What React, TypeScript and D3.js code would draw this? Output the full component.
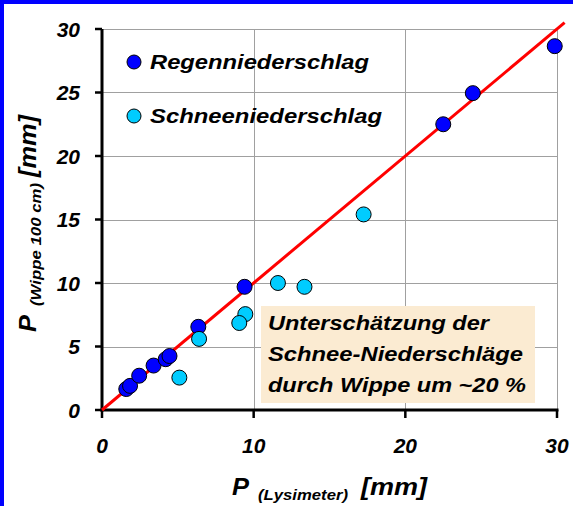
import { useEffect, useRef } from "react";
import * as d3 from "d3";

// rain points (Regenniederschlag)
const regenX = [1.6, 1.85, 2.45, 3.4, 4.2, 4.45, 6.35, 9.4, 22.5, 24.45, 29.85];
const regenY = [1.65, 1.9, 2.7, 3.5, 4.0, 4.25, 6.55, 9.7, 22.5, 24.95, 28.65];

// snow points (Schneeniederschlag)
const schneeX = [5.1, 6.4, 9.45, 9.05, 11.6, 13.35, 17.25];
const schneeY = [2.55, 5.6, 7.55, 6.85, 10.0, 9.7, 15.4];

// 1:1 line
const lineX = [0, 30.5];
const lineY = [0, 30.5];

const yTicks = [0, 5, 10, 15, 20, 25, 30];
const xTicks = [0, 10, 20, 30];

const legendLabels = ["Regenniederschlag", "Schneeniederschlag"];
const noteLines = ["Unterschätzung der", "Schnee-Niederschläge", "durch Wippe um ~20 %"];

const FONT = "'Liberation Sans', Arial, sans-serif";

function App() {
  const svgRef = useRef<SVGSVGElement>(null);

  useEffect(() => {
    const svg = d3.select(svgRef.current);
    svg.selectAll("*").remove();

    const x = d3.scaleLinear().domain([0, 30]).range([102, 557]);
    const y = d3.scaleLinear().domain([0, 30]).range([410, 29]);

    // frame (only top and left visible)
    svg.append("rect").attr("x", 0).attr("y", 0).attr("width", 573).attr("height", 506).attr("fill", "#fff");
    svg.append("rect").attr("x", 0).attr("y", 0).attr("width", 573).attr("height", 4).attr("fill", "#0000ff");
    svg.append("rect").attr("x", 0).attr("y", 0).attr("width", 4).attr("height", 506).attr("fill", "#0000ff");

    // grid
    const grid = svg.append("g").attr("stroke", "#a0a0a0").attr("stroke-width", 1);
    yTicks.filter((t) => t > 0).forEach((t) => {
      grid.append("line").attr("x1", x(0)).attr("x2", x(30))
        .attr("y1", Math.round(y(t)) + 0.5).attr("y2", Math.round(y(t)) + 0.5);
    });
    xTicks.filter((t) => t > 0).forEach((t) => {
      grid.append("line").attr("y1", y(30)).attr("y2", y(0))
        .attr("x1", Math.round(x(t)) + 0.5).attr("x2", Math.round(x(t)) + 0.5);
    });

    // note box
    const note = svg.append("g");
    note.append("rect").attr("x", 261).attr("y", 306).attr("width", 274).attr("height", 97).attr("fill", "#fbebd2");
    const noteWidths = [221, 255, 258];
    noteLines.forEach((s, i) => {
      note.append("text").attr("x", 268).attr("y", 330 + i * 31)
        .attr("font-family", FONT).attr("font-size", 21).attr("font-weight", "bold").attr("font-style", "italic")
        .attr("textLength", noteWidths[i]).attr("lengthAdjust", "spacingAndGlyphs")
        .text(s);
    });

    // axes
    const axes = svg.append("g").attr("stroke", "#000").attr("stroke-width", 3);
    axes.append("line").attr("x1", x(0)).attr("x2", x(0)).attr("y1", y(30)).attr("y2", y(0) + 1.5);
    axes.append("line").attr("x1", x(0) - 1.5).attr("x2", x(30) + 1.5).attr("y1", y(0)).attr("y2", y(0));
    yTicks.forEach((t) => {
      axes.append("line").attr("x1", x(0) - 7).attr("x2", x(0)).attr("y1", y(t)).attr("y2", y(t)).attr("stroke-width", 2.5);
    });
    xTicks.forEach((t) => {
      axes.append("line").attr("x1", x(t)).attr("x2", x(t)).attr("y1", y(0)).attr("y2", y(0) + 8).attr("stroke-width", 2.5);
    });

    // tick labels
    yTicks.forEach((t) => {
      svg.append("text").attr("x", 80).attr("y", y(t) + 7.5).attr("text-anchor", "end")
        .attr("font-family", FONT).attr("font-size", 21).attr("font-weight", "bold").attr("font-style", "italic")
        .text(t);
    });
    xTicks.forEach((t) => {
      svg.append("text").attr("x", x(t)).attr("y", 453).attr("text-anchor", "middle")
        .attr("font-family", FONT).attr("font-size", 21).attr("font-weight", "bold").attr("font-style", "italic")
        .text(t);
    });

    // 1:1 line
    const line = d3.line<number>().x((d) => x(d)).y((_, i) => y(lineY[i]));
    svg.append("path").attr("d", line(lineX)).attr("fill", "none").attr("stroke", "#ff0000").attr("stroke-width", 3);

    // points
    const drawPoints = (xs: number[], ys: number[], color: string) => {
      xs.forEach((v, i) => {
        svg.append("circle").attr("cx", x(v)).attr("cy", y(ys[i])).attr("r", 7.5)
          .attr("fill", color).attr("stroke", "#000").attr("stroke-width", 1);
      });
    };
    drawPoints(regenX, regenY, "#0000ff");
    drawPoints(schneeX, schneeY, "#00ccff");

    // legend
    const legendColors = ["#0000ff", "#00ccff"];
    const legendWidths = [219, 232];
    legendLabels.forEach((s, i) => {
      const cy = 62 + i * 54;
      svg.append("circle").attr("cx", 134).attr("cy", cy).attr("r", 7)
        .attr("fill", legendColors[i]).attr("stroke", "#000").attr("stroke-width", 1);
      svg.append("text").attr("x", 150).attr("y", cy + 7)
        .attr("font-family", FONT).attr("font-size", 21).attr("font-weight", "bold").attr("font-style", "italic")
        .attr("textLength", legendWidths[i]).attr("lengthAdjust", "spacingAndGlyphs")
        .text(s);
    });

    // axis titles: main letter, subscript, unit
    const title = (g: d3.Selection<SVGGElement, unknown, null, undefined>, parts: [string, number, number, number, number][]) => {
      parts.forEach(([s, px, py, size, len]) => {
        g.append("text").attr("x", px).attr("y", py)
          .attr("font-family", FONT).attr("font-size", size).attr("font-weight", "bold").attr("font-style", "italic")
          .attr("textLength", len).attr("lengthAdjust", "spacingAndGlyphs")
          .text(s);
      });
    };
    const xt = svg.append("g");
    title(xt, [["P", 232, 495, 23, 17], ["(Lysimeter)", 258, 500, 15, 90], ["[mm]", 361, 495, 23, 66]]);

    const yt = svg.append("g").attr("transform", "translate(36,0) rotate(-90)");
    title(yt, [["P", -332, 0, 23, 17], ["(Wippe 100 cm)", -306, 5, 15, 123], ["[mm]", -177, 0, 23, 62]]);
  }, []);

  return (
    <svg ref={svgRef} width={573} height={506} style={{ position: "absolute", left: 0, top: 0 }} />
  );
}

export default App;
